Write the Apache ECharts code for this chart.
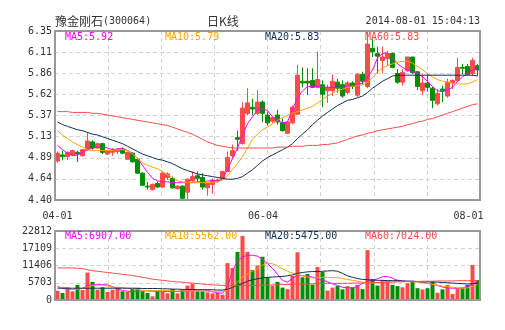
<!DOCTYPE html>
<html><head><meta charset="utf-8">
<script src="https://cdn.jsdelivr.net/npm/echarts@6/dist/echarts.min.js"></script>
<style>html,body{margin:0;padding:0;background:#fff;}#c{width:505px;height:330px;}</style>
</head><body><div id="c"></div>
<script>
var dates = ['04-01','04-02','04-03','04-04','04-08','04-09','04-10','04-11','04-14','04-15','04-16','04-17','04-18','04-21','04-22','04-23','04-24','04-25','04-28','04-29','04-30',
'05-05','05-06','05-07','05-08','05-09','05-12','05-13','05-14','05-15','05-16','05-19','05-20','05-21','05-22','05-23','05-26','05-27','05-28','05-29','05-30',
'06-03','06-04','06-05','06-06','06-09','06-10','06-11','06-12','06-13','06-16','06-17','06-18','06-19','06-20','06-23','06-24','06-25','06-26','06-27','06-30',
'07-01','07-02','07-03','07-04','07-07','07-08','07-09','07-10','07-11','07-14','07-15','07-16','07-17','07-18','07-21','07-22','07-23','07-24','07-25','07-28','07-29','07-30','07-31',
'08-01'];
var shownDates = ['04-01','06-04','08-01'];
// [open, close, low, high]
var ohlc = [
[4.85,4.94,4.83,4.96],[4.92,4.90,4.86,4.97],[4.90,4.95,4.86,4.96],[4.92,4.97,4.91,4.98],[4.95,4.93,4.84,4.97],
[4.91,4.98,4.90,4.99],[4.98,5.08,4.97,5.18],[5.07,5.00,4.98,5.09],[5.00,5.05,4.99,5.06],[5.05,4.95,4.93,5.06],
[4.93,4.97,4.92,4.98],[4.95,4.97,4.91,5.00],[4.96,4.98,4.93,5.00],[4.98,4.94,4.93,5.00],[4.87,4.95,4.86,4.96],
[4.94,4.84,4.83,4.95],[4.87,4.71,4.70,4.88],[4.71,4.57,4.56,4.72],[4.56,4.55,4.52,4.61],[4.52,4.58,4.51,4.59],
[4.59,4.55,4.54,4.61],[4.55,4.71,4.54,4.73],[4.66,4.70,4.63,4.72],[4.65,4.54,4.53,4.67],[4.53,4.56,4.52,4.57],
[4.56,4.42,4.40,4.57],[4.49,4.64,4.41,4.65],[4.62,4.67,4.61,4.73],[4.68,4.65,4.61,4.73],[4.66,4.55,4.52,4.71],
[4.54,4.59,4.45,4.60],[4.58,4.63,4.47,4.65],[4.62,4.63,4.60,4.65],[4.65,4.73,4.64,4.73],[4.73,4.89,4.72,4.96],
[4.91,4.97,4.88,5.04],[5.12,5.10,4.97,5.20],[5.05,5.46,5.04,5.53],[5.40,5.52,5.38,5.69],[5.47,5.45,5.38,5.57],
[5.40,5.53,5.38,5.67],[5.53,5.40,5.30,5.55],[5.38,5.29,5.26,5.42],[5.31,5.35,5.29,5.36],[5.38,5.30,5.27,5.44],
[5.29,5.20,5.19,5.34],[5.17,5.30,5.16,5.31],[5.29,5.47,5.27,5.49],[5.39,5.84,5.38,5.96],[5.77,5.75,5.70,5.93],
[5.77,5.75,5.61,5.92],[5.78,5.70,5.69,5.92],[5.70,5.79,5.69,6.11],[5.73,5.62,5.47,5.78],[5.66,5.70,5.52,5.73],
[5.66,5.77,5.60,5.85],[5.76,5.69,5.64,5.80],[5.73,5.60,5.58,5.78],[5.64,5.75,5.62,5.77],[5.75,5.71,5.68,5.77],
[5.61,5.85,5.59,5.86],[5.85,5.77,5.73,5.88],[5.71,6.20,5.69,6.34],[6.15,6.11,6.05,6.26],[6.09,6.06,5.86,6.17],
[6.01,6.05,5.86,6.17],[6.03,6.09,5.95,6.12],[6.09,5.93,5.92,6.10],[5.86,5.76,5.74,5.91],[5.76,5.87,5.72,5.91],
[5.89,6.05,5.88,6.05],[6.05,5.87,5.85,6.05],[5.88,5.71,5.67,5.88],[5.66,5.75,5.61,5.85],[5.75,5.70,5.65,5.85],
[5.69,5.55,5.46,5.71],[5.51,5.63,5.49,5.68],[5.68,5.66,5.53,5.72],[5.60,5.76,5.58,5.80],[5.75,5.78,5.68,5.79],
[5.78,5.93,5.76,6.04],[5.93,5.92,5.85,5.97],[5.94,5.85,5.84,5.97],[5.86,6.01,5.83,6.04],[5.95,5.90,5.83,5.97]
];
var ma5 = [5.03,4.98,4.94,4.91,4.92,4.95,4.98,5.00,5.01,5.01, 5.00,4.98,4.99,5.00,4.97,4.94,4.88,4.80,4.72,4.65,
4.62,4.61,4.61,4.60,4.60,4.60,4.60,4.60,4.61,4.61, 4.62,4.62,4.62,4.64,4.75,4.88,5.00,5.15,5.28,5.36,
5.44,5.46,5.43,5.36,5.32,5.29,5.30,5.45,5.58,5.66, 5.71,5.71,5.71,5.70,5.70,5.70,5.70,5.70,5.71,5.72,
5.73,5.75,5.82,5.90,6.04,6.09,6.10,6.05,5.97,5.93, 5.90,5.88,5.86,5.82,5.77,5.71,5.66,5.65,5.67,5.70,
5.77,5.82,5.86,5.90,5.92];
var ma10 = [5.20,5.15,5.11,5.07,5.04,5.01,4.98,4.97,4.97,4.97, 4.97,4.97,4.98,4.98,4.97,4.93,4.88,4.83,4.80,4.78,
4.76,4.73,4.69,4.66,4.62,4.61,4.60,4.60,4.60,4.60, 4.60,4.60,4.61,4.63,4.68,4.75,4.82,4.90,5.00,5.10,
5.16,5.21,5.24,5.28,5.32,5.35,5.38,5.40,5.42,5.44, 5.46,5.48,5.52,5.56,5.60,5.63,5.66,5.68,5.70,5.71,
5.72,5.73,5.76,5.81,5.88,5.92,5.95,5.97,5.99,6.00, 6.00,5.98,5.94,5.90,5.86,5.82,5.79,5.77,5.76,5.75,
5.74,5.74,5.74,5.76,5.79];
var ma20 = [5.30,5.27,5.25,5.23,5.21,5.20,5.18,5.16,5.15,5.13, 5.11,5.09,5.07,5.05,5.02,4.99,4.96,4.93,4.91,4.89,
4.87,4.86,4.84,4.82,4.79,4.76,4.74,4.72,4.70,4.69, 4.68,4.67,4.66,4.65,4.64,4.64,4.65,4.67,4.71,4.75,
4.80,4.85,4.89,4.92,4.95,4.98,5.01,5.05,5.11,5.16, 5.21,5.27,5.32,5.37,5.41,5.45,5.49,5.52,5.55,5.56,
5.58,5.60,5.64,5.69,5.73,5.77,5.80,5.83,5.84,5.84, 5.84,5.84,5.84,5.84,5.84,5.84,5.84,5.84,5.84,5.84,
5.84,5.84,5.84,5.84,5.83];
var ma60 = [5.42,5.42,5.42,5.41,5.41,5.41,5.41,5.40,5.40,5.39, 5.38,5.37,5.36,5.35,5.34,5.33,5.32,5.31,5.30,5.29,
5.28,5.27,5.26,5.24,5.22,5.20,5.18,5.16,5.13,5.10, 5.07,5.05,5.03,5.02,5.01,5.00,5.00,5.00,5.00,5.00,
5.00,5.00,5.00,5.00,5.01,5.01,5.01,5.02,5.02,5.02, 5.03,5.03,5.03,5.04,5.04,5.05,5.06,5.08,5.10,5.12,
5.14,5.15,5.17,5.18,5.20,5.21,5.22,5.23,5.24,5.25, 5.27,5.28,5.30,5.31,5.33,5.34,5.36,5.38,5.40,5.42,
5.44,5.46,5.48,5.50,5.51];
var volume = [3080,2310,4190,2870,4960,3310,9040,5950,3420,4190, 2650,3420,4190,2870,2650,3640,3970,2870,2310,1210,
2870,2650,2200,3640,2200,3420,4740,5290,2870,2870, 2540,2200,2310,1760,12200,10600,15900,21200,15900,9900,
11400,14300,7500,4700,6000,4100,3600,8000,15800,7500, 8600,5100,10900,9300,3100,4100,4600,3500,4600,4200,
5000,3600,16500,6900,4800,6600,6400,5000,4600,4200, 5500,6000,3900,3500,3900,6300,2400,3500,5000,2000,
3900,3900,5000,11600,6600];
var vma5 = [4500,3800,3700,3500,3700,3900,4700,5100,5100,5100, 5000,4400,3800,3100,2900,2800,2900,3000,3000,2900,
2900,2800,2800,2800,2800,2900,3000,3200,3300,3400, 3200,2700,2400,2200,4500,9500,13000,14200,14800,14800,
14500,13500,12000,10500,8500,6500,5900,7200,8200,8000, 7800,7600,7000,6600,6000,5300,4800,4200,4000,4000,
4500,5500,6200,6500,7000,7700,7800,7200,6500,6300, 6200,6200,6100,5800,5500,5200,4800,4300,4000,3900,
3900,4000,4500,5200,6100];
var vma10 = [4200,4200,3900,3500,3600,3800,4300,4800,4900,4900, 4600,4200,4200,4100,3900,3700,3400,3200,3100,3100,
3100,3100,3100,3000,3000,3000,3000,3000,3000,2900, 2900,2900,2900,2900,3300,4400,6000,7500,8700,9500,
10500,11500,12200,12000,11200,10300,9500,8900,8400,8000, 7600,7300,7300,7500,7500,7400,7400,7100,6800,6500,
6200,5900,5700,5600,5700,5900,6100,6200,6200,6200, 6100,6000,5900,5700,5500,5200,4900,4600,4400,4200,
4000,3900,4000,4500,5100];
var vma20 = [3900,3900,3900,3900,3900,3900,3900,3900,3900,3900, 3900,3900,3900,3900,3900,3900,3900,3800,3800,3800,
3800,3700,3700,3600,3600,3500,3500,3500,3400,3400, 3400,3400,3300,3300,3500,4200,4800,5500,6200,6700,
7000,7300,7500,7600,7700,7800,8000,8300,8800,9100, 9300,9400,9400,9500,9600,9700,9500,8800,8000,7500,
7100,6800,6700,6600,6500,6500,6400,6400,6400,6300, 6200,6200,6100,6000,6000,5900,5900,5800,5700,5600,
5500,5400,5300,5400,5500];
var vma60 = [10600,10600,10600,10600,10500,10400,10000,9700,9500,9300, 9100,8900,8700,8500,8300,8100,7800,7500,7200,6900,
6700,6500,6300,6100,6000,5900,5700,5600,5400,5300, 5100,5000,4900,4800,4700,4700,4700,4800,4800,4800,
4800,4900,4900,5000,5000,5100,5100,5200,5300,5300, 5300,5400,5400,5400,5500,5500,5500,5500,5500,5600,
5600,5600,5700,5700,5800,5800,5900,5900,6000,6000, 6100,6100,6100,6200,6200,6200,6300,6300,6300,6300,
6400,6400,6400,6400,6400];
var priceTicks = ['4.40','4.64','4.89','5.13','5.37','5.62','5.86','6.11','6.35'];
var priceMin = 4.40, priceMax = 6.35;
var volTicks = [0, 5703, 11406, 17109, 22812];
var priceMaLabels = ['MA5:5.92','MA10:5.79','MA20:5.83','MA60:5.83'];
var volMaLabels = ['MA5:6907.00','MA10:5562.00','MA20:5475.00','MA60:7024.00'];
var titleName = '豫金刚石', titleCode = '(300064)', titleMid = '日K线', titleTime = '2014-08-01 15:04:13';

var UP = '#ff4a4a', DOWN = '#008f00';
var maColors = ['#ff00ff', '#ffa500', '#0d2e5a', '#ff4a4a'];
var mono = '"DejaVu Sans Mono", monospace';
var lblColor = '#333';
var dash = {color: '#d4d4d4', type: [4, 3], width: 1};

var chart = echarts.init(document.getElementById('c'), null, {renderer: 'canvas'});
function maSeries(name, data, color, xi, yi) {
  return {name: name, type: 'line', data: data, xAxisIndex: xi, yAxisIndex: yi, symbol: 'none',
    lineStyle: {color: color, width: 1}, silent: true, animation: false, z: 5};
}
var labelPos = {'04-01': '{a|04-01}', '06-04': '{b|06-04}', '08-01': '{c|08-01}'};
var option = {
  animation: false,
  backgroundColor: '#fff',
  grid: [
    {left: 55, top: 31, width: 425, height: 169, show: true, borderColor: '#999', borderWidth: 2, backgroundColor: 'transparent', z: 10},
    {left: 55, top: 231, width: 425, height: 69, show: true, borderColor: '#999', borderWidth: 2, backgroundColor: 'transparent', z: 10}
  ],
  xAxis: [
    {type: 'category', gridIndex: 0, data: dates, boundaryGap: true,
      axisLine: {show: false}, axisTick: {show: false}, splitLine: {show: false},
      axisLabel: {show: true, margin: 11, color: lblColor, fontFamily: mono, fontSize: 10,
        interval: function (i, v) { return shownDates.indexOf(v) >= 0; },
        formatter: function (v) { return labelPos[v] || ''; },
        rich: {a: {fontFamily: mono, fontSize: 10, color: lblColor, padding: [0, 0, 0, 0]},
               b: {fontFamily: mono, fontSize: 10, color: lblColor, padding: [0, 9, 0, 0]},
               c: {fontFamily: mono, fontSize: 10, color: lblColor, padding: [0, 18, 0, 0]}}}},
    {type: 'category', gridIndex: 1, data: dates, boundaryGap: true,
      axisLine: {show: false}, axisTick: {show: false}, axisLabel: {show: false}, splitLine: {show: false}},
    {type: 'value', gridIndex: 0, min: 0, max: 8, interval: 1, axisLine: {show: false}, axisTick: {show: false},
      axisLabel: {show: false}, splitLine: {show: true, lineStyle: dash}},
    {type: 'value', gridIndex: 1, min: 0, max: 8, interval: 1, axisLine: {show: false}, axisTick: {show: false},
      axisLabel: {show: false}, splitLine: {show: true, lineStyle: dash}}
  ],
  yAxis: [
    {type: 'value', gridIndex: 0, min: priceMin, max: priceMax, axisLine: {show: false}, axisTick: {show: false},
      axisLabel: {show: false}, splitLine: {show: false}},
    {type: 'value', gridIndex: 0, position: 'left', min: 0, max: priceTicks.length - 1, interval: 1,
      axisLine: {show: false}, axisTick: {show: false}, splitLine: {show: true, lineStyle: dash},
      axisLabel: {show: true, margin: 3, color: lblColor, fontFamily: mono, fontSize: 10,
        formatter: function (v) { return priceTicks[Math.round(v)]; }}},
    {type: 'value', gridIndex: 1, min: volTicks[0], max: volTicks[volTicks.length - 1], interval: volTicks[1] - volTicks[0],
      axisLine: {show: false}, axisTick: {show: false}, splitLine: {show: true, lineStyle: dash},
      axisLabel: {show: true, margin: 3, color: lblColor, fontFamily: mono, fontSize: 10,
        formatter: function (v) { return String(Math.round(v)); }}}
  ],
  series: [
    {type: 'candlestick', data: ohlc, xAxisIndex: 0, yAxisIndex: 0, barWidth: 4, z: 3,
      itemStyle: {color: UP, color0: DOWN, borderColor: UP, borderColor0: DOWN, borderWidth: 1}},
    maSeries('MA5', ma5, maColors[0], 0, 0),
    maSeries('MA10', ma10, maColors[1], 0, 0),
    maSeries('MA20', ma20, maColors[2], 0, 0),
    maSeries('MA60', ma60, maColors[3], 0, 0),
    {type: 'bar', data: volume, xAxisIndex: 1, yAxisIndex: 2, barWidth: 4, z: 3,
      itemStyle: {color: function (p) { var d = ohlc[p.dataIndex]; return d[1] >= d[0] ? UP : DOWN; }}},
    maSeries('VMA5', vma5, maColors[0], 1, 2),
    maSeries('VMA10', vma10, maColors[1], 1, 2),
    maSeries('VMA20', vma20, maColors[2], 1, 2),
    maSeries('VMA60', vma60, maColors[3], 1, 2)
  ],
  graphic: [
    {type: 'text', left: 55, top: 15, style: {text: '{c|' + titleName + '}{a|' + titleCode + '}',
      rich: {c: {fontFamily: '"Noto Sans CJK SC"', fontSize: 12, fill: '#333'}, a: {fontFamily: mono, fontSize: 10, fill: '#333'}}}},
    {type: 'text', left: 207, top: 15, style: {text: titleMid, fontFamily: '"Noto Sans CJK SC"', fontSize: 12, fill: '#333'}},
    {type: 'text', right: 25, top: 16, style: {text: titleTime, fontFamily: mono, fontSize: 10, fill: '#333'}}
  ]
};
var xs = [65, 165, 265, 365];
for (var k = 0; k < 4; k++) {
  option.graphic.push({type: 'text', left: xs[k], top: 32, z: 20, style: {text: priceMaLabels[k], fontFamily: mono, fontSize: 10, fill: maColors[k]}});
  option.graphic.push({type: 'text', left: xs[k], top: 231, z: 20, style: {text: volMaLabels[k], fontFamily: mono, fontSize: 10, fill: maColors[k]}});
}
chart.setOption(option);
</script></body></html>
